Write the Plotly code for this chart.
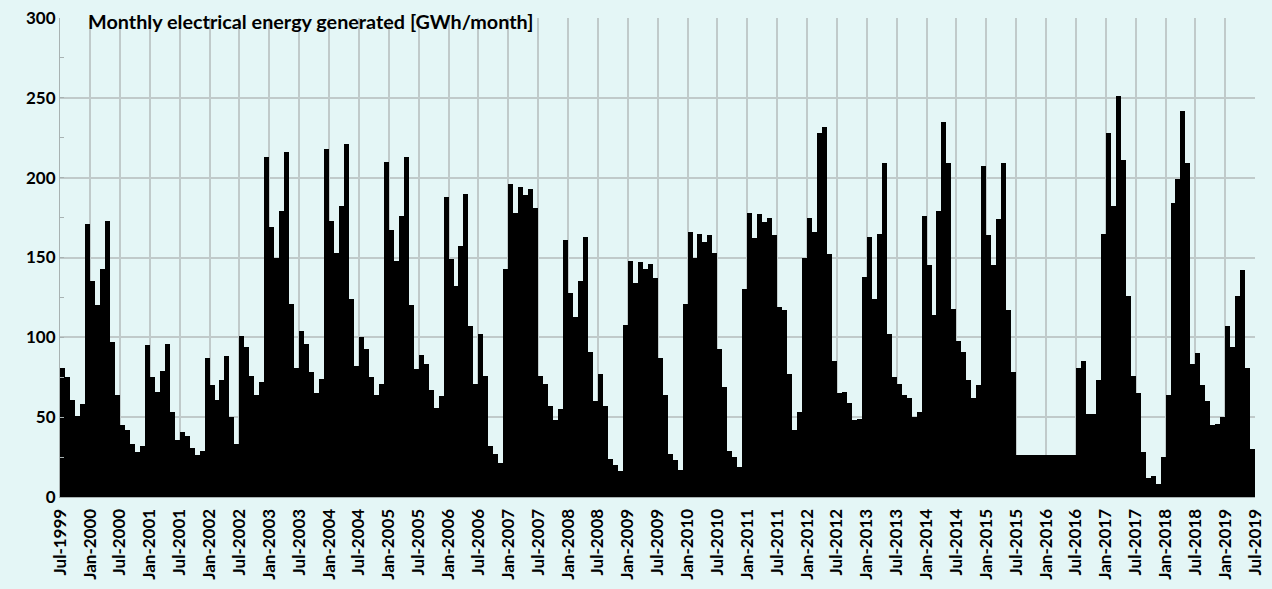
import pandas as pd
import plotly.graph_objects as go

start_month = "1999-07-01"
title_text = "Monthly electrical energy generated [GWh/month]"
y_ticks = [0, 50, 100, 150, 200, 250, 300]

energy_gwh = [
    81, 75, 61, 51, 58, 171, 135, 120, 143, 173, 97, 64,
    45, 42, 33, 28, 32, 95, 75, 66, 79, 96, 53, 36,
    41, 38, 31, 26, 29, 87, 70, 61, 73, 88, 50, 33,
    101, 94, 76, 64, 72, 213, 169, 150, 179, 216, 121, 81,
    104, 96, 78, 65, 74, 218, 173, 153, 182, 221, 124, 82,
    100, 93, 75, 64, 71, 210, 167, 148, 176, 213, 120, 80,
    89, 83, 67, 56, 63, 188, 149, 132, 157, 190, 107, 71,
    102, 76, 32, 27, 21, 143, 196, 178, 194, 189, 193, 181,
    76, 71, 57, 48, 55, 161, 128, 113, 135, 163, 91, 60,
    77, 57, 24, 20, 16, 108, 148, 134, 147, 143, 146, 137,
    87, 64, 27, 23, 17, 121, 166, 150, 165, 160, 164, 153,
    93, 69, 29, 25, 19, 130, 178, 162, 177, 172, 175, 164,
    119, 117, 77, 42, 53, 150, 175, 166, 228, 232, 152, 85,
    65, 66, 59, 48, 49, 138, 163, 124, 165, 209, 102, 75,
    71, 64, 62, 50, 53, 176, 145, 114, 179, 235, 209, 118,
    98, 91, 73, 62, 70, 207, 164, 145, 174, 209, 117, 78,
    26, 26, 26, 26, 26, 26, 26, 26, 26, 26, 26, 26,
    81, 85, 52, 52, 73, 165, 228, 182, 251, 211, 126, 76,
    65, 28, 12, 13, 8, 25, 64, 184, 199, 242, 209, 83,
    90, 70, 60, 45, 46, 50, 107, 94, 126, 142, 81, 30,
]

months = pd.date_range(start_month, periods=len(energy_gwh), freq="MS")
month_ms = [d.days_in_month * 86400000 for d in months]
end_month = months[-1] + pd.offsets.MonthBegin(1)

bg = "#E4F6F6"
grid = "#C0CACA"
axis_col = "#A8B2B2"
font_family = "Lato, 'Open Sans', sans-serif"

fig = go.Figure(
    go.Bar(
        x=months,
        y=energy_gwh,
        width=month_ms,
        offset=0,
        marker=dict(color="black", line=dict(width=0)),
        hoverinfo="x+y",
    )
)

fig.update_layout(
    width=1272,
    height=589,
    margin=dict(l=60, r=17, t=18, b=92),
    paper_bgcolor=bg,
    plot_bgcolor=bg,
    bargap=0,
    showlegend=False,
    font=dict(family=font_family, color="black"),
    annotations=[
        dict(
            text=title_text,
            xref="paper", yref="paper",
            x=0.022, y=0.994,
            xanchor="left", yanchor="middle",
            showarrow=False,
            font=dict(size=19.8, weight="bold", family=font_family, color="black"),
        )
    ],
)

fig.update_xaxes(
    type="date",
    range=[months[0], end_month],
    tick0=start_month,
    dtick="M6",
    tickformat="%b-%Y",
    tickangle=-90,
    tickfont=dict(size=17, weight="bold", family=font_family, color="black"),
    showgrid=True,
    gridcolor=grid,
    gridwidth=1.5,
    showline=True,
    linecolor=axis_col,
    linewidth=1,
    ticks="outside",
    ticklen=4,
    tickcolor="rgba(0,0,0,0)",
    automargin=False,
)

fig.update_yaxes(
    range=[0, 300],
    tickvals=y_ticks,
    tickfont=dict(size=17, weight="bold", family=font_family, color="black"),
    showgrid=True,
    gridcolor=grid,
    gridwidth=1.5,
    showline=True,
    linecolor=axis_col,
    linewidth=1,
    zeroline=False,
    ticks="inside",
    ticklen=4,
    tickcolor=axis_col,
    minor=dict(dtick=25, ticks="inside", ticklen=4, tickcolor=axis_col, showgrid=False),
    automargin=False,
)

fig.write_html(
    "out.html",
    config={"displayModeBar": False},
    post_script="document.body.style.margin='0';document.body.style.background='" + bg + "';",
)
